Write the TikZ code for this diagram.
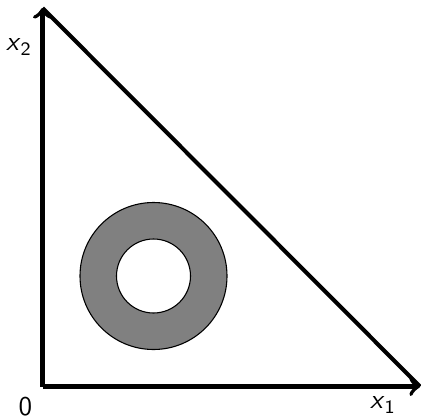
\documentclass[tikz,border=0pt]{standalone}
\usepackage{tikz}
\usetikzlibrary{positioning,calc}

\begin{document}
\begin{tikzpicture}[x=0.013cm,y=0.013cm,
      axis/.style={->,line width=1.5pt},
      edge/.style={line width=1.5pt},
      ring/.style={draw,thin,fill=gray,even odd rule},
      lbl/.style={font=\sffamily,inner sep=0pt}
      ]

      \useasboundingbox (0,0) rectangle (421,417);

      \coordinate (origin) at (42.5,30.5);
      \coordinate (xend) at (420,30.5);
      \coordinate (yend) at (42.5,409);
      \coordinate (center) at (153.5,141);

      \draw[axis] (origin) -- (xend);
      \draw[axis] (origin) -- (yend);
      \draw[edge] (yend) -- (xend);

      \draw[ring] (center) circle (73.5) (center) circle (37);

      \node[lbl] (zero) at (25.5,10.5) {0};
      \node[lbl] (xone) at (383,12) {\textit{x}\textsubscript{1}};
      \node[lbl] (xtwo) at (19,370) {\textit{x}\textsubscript{2}};

    \end{tikzpicture}
\end{document}
